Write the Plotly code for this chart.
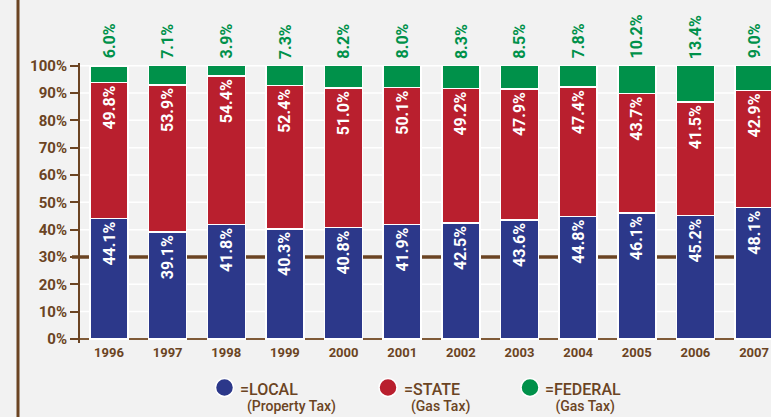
import plotly.graph_objects as go

years = ["1996", "1997", "1998", "1999", "2000", "2001", "2002", "2003", "2004", "2005", "2006", "2007"]
local = [44.1, 39.1, 41.8, 40.3, 40.8, 41.9, 42.5, 43.6, 44.8, 46.1, 45.2, 48.1]
state = [49.8, 53.9, 54.4, 52.4, 51.0, 50.1, 49.2, 47.9, 47.4, 43.7, 41.5, 42.9]
federal = [6.0, 7.1, 3.9, 7.3, 8.2, 8.0, 8.3, 8.5, 7.8, 10.2, 13.4, 9.0]
y_ticks = [0, 10, 20, 30, 40, 50, 60, 70, 80, 90, 100]
y_tick_labels = [f"{v}%" for v in y_ticks]
ref_line = 30
legend_items = [("=LOCAL", "(Property Tax)"), ("=STATE", "(Gas Tax)"), ("=FEDERAL", "(Gas Tax)")]

BLUE = "#2c388a"
RED = "#b91f2e"
GREEN = "#00914a"
BROWN = "#6b4423"
BG = "#f2f2f2"

W, H = 771, 417
ML, MR, MT, MB = 80, 0, 63, 74
PW, PH = W - ML - MR, H - MT - MB

def px_x(px):
    return (px - ML) / PW

def px_y(py):
    return (H - MB - py) / PH

fig = go.Figure()
common = dict(width=0.648, marker_line_color="white", marker_line_width=1.5,
              textangle=-90, textposition="inside", insidetextanchor="end",
              textfont=dict(family="Roboto", size=16, color="white", weight="bold"),
              cliponaxis=False, hoverinfo="skip")
fig.add_trace(go.Bar(x=years, y=local, marker_color=BLUE,
                     text=[f"{v:.1f}%" for v in local], **common))
fig.add_trace(go.Bar(x=years, y=state, marker_color=RED,
                     text=[f"{v:.1f}%" for v in state], **common))
fig.add_trace(go.Bar(x=years, y=federal, marker_color=GREEN, **common))

annotations = []
for i, f in enumerate(federal):
    annotations.append(dict(x=i, y=100, xref="x", yref="y", text=f"{f:.1f}%",
                            showarrow=False, textangle=-90, yanchor="bottom",
                            xanchor="center", yshift=5,
                            font=dict(family="Roboto", size=16, color=GREEN, weight="bold")))

circle_px = [224.5, 388, 530]
label_px = [238, 402, 543]
indent = [2, 2, 3]
colors = [BLUE, RED, GREEN]
shapes = []
# white gridlines (drawn as shapes so the reference line sits on top of them)
for v in y_ticks:
    if v in (0, ref_line):
        continue
    shapes.append(dict(type="line", xref="paper", yref="y", x0=0, x1=1, y0=v, y1=v,
                       line=dict(color="white", width=1.5), layer="below"))
# 30% reference line (behind bars)
shapes.append(dict(type="line", xref="paper", yref="y", x0=px_x(72), x1=1.0,
                   y0=ref_line, y1=ref_line,
                   line=dict(color=BROWN, width=3.5), layer="below"))
# decorative left vertical line
shapes.append(dict(type="line", xref="paper", yref="paper", x0=px_x(18), x1=px_x(18),
                   y0=px_y(0), y1=px_y(417), line=dict(color=BROWN, width=3)))

for cx, lx, ind, col, (lab, sub) in zip(circle_px, label_px, indent, colors, legend_items):
    shapes.append(dict(type="circle", xref="paper", yref="paper",
                       xsizemode="pixel", ysizemode="pixel",
                       xanchor=px_x(cx), yanchor=px_y(387.5),
                       x0=-9, x1=9, y0=-9, y1=9,
                       fillcolor=col, line=dict(color="white", width=1.5)))
    txt = (f"<span style='font-size:16px'>{lab}</span><br>"
           f"<span style='font-size:14px'>{'&nbsp;' * ind}{sub}</span>")
    annotations.append(dict(x=px_x(lx), y=px_y(397), xref="paper", yref="paper",
                            text=txt, showarrow=False, xanchor="left", yanchor="middle",
                            align="left",
                            font=dict(family="Roboto", size=12.3, color=BROWN, weight=500)))

fig.update_layout(
    width=W, height=H, barmode="stack",
    paper_bgcolor=BG, plot_bgcolor=BG, showlegend=False,
    margin=dict(l=ML, r=MR, t=MT, b=MB),
    annotations=annotations, shapes=shapes,
    xaxis=dict(type="category", range=[-0.4945, 11.289], showgrid=False, showline=False,
               zeroline=False, ticks="",
               tickfont=dict(family="Roboto", size=13, color=BROWN, weight="bold")),
    yaxis=dict(range=[-1.5, 101], tickvals=y_ticks, ticktext=y_tick_labels,
               showgrid=False,
               zeroline=True, zerolinecolor="#7f5a38", zerolinewidth=2,
               showline=True, linecolor=BROWN, linewidth=2,
               ticks="outside", ticklen=8, tickwidth=2, tickcolor=BROWN,
               tickfont=dict(family="Roboto", size=15, color=BROWN, weight="bold")),
)

fig.write_html("out.html", config={"displayModeBar": False},
               post_script="document.body.style.margin='0';document.body.style.overflow='hidden';document.body.style.background='#f2f2f2';")
